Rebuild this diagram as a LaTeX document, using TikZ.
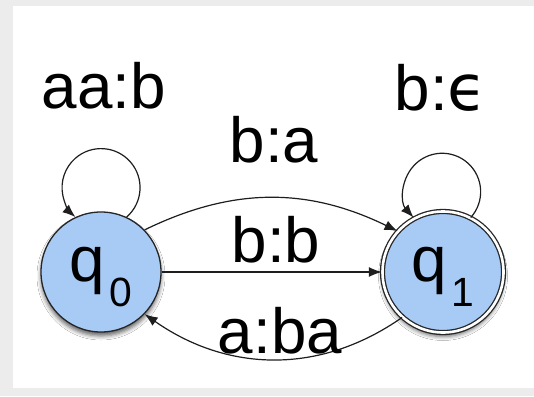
\documentclass[tikz,border=0pt]{standalone}
\usepackage{fontspec}
\setmainfont{Liberation Sans}
\newfontfamily\greekfont{DejaVu Sans}
\usetikzlibrary{arrows.meta,shadows.blur}

\definecolor{panelgray}{RGB}{236,236,236}
\definecolor{statefill}{RGB}{168,203,246}
\definecolor{edgecol}{RGB}{30,30,30}

\tikzset{
  x=1bp, y=1bp,
  state/.style={circle, draw=black!85, line width=1.3bp, fill=statefill,
    minimum size=120bp, inner sep=0pt,
    blur shadow={shadow xshift=0bp, shadow yshift=-4bp,
      shadow blur radius=4bp, shadow opacity=60}},
  accepting/.style={state, double=white, double distance=2.6bp, minimum size=121bp},
  trans/.style={draw=edgecol, line width=1.2bp,
    -{Latex[length=13bp,width=10bp]}},
  lbl/.style={anchor=base, inner sep=0pt, font=\fontsize{64}{70}\selectfont},
}

% state name: a large q with a deeply lowered index
\newcommand{\statename}[1]{\raisebox{-9bp}[0pt][0pt]{q\hspace{4bp}\raisebox{-25bp}{\fontsize{41}{41}\selectfont #1}}}

\begin{document}
\begin{tikzpicture}
  % page and white panel
  \path[fill=panelgray] (0,0) rectangle (534,396);
  \path[fill=white] (13,8) rectangle (534,390);
  \useasboundingbox (0,0) rectangle (534,396);

  % states
  \node[state, font=\fontsize{64}{70}\selectfont] (q0) at (101,124) {\statename{0}};
  \node[accepting, font=\fontsize{64}{70}\selectfont] (q1) at (443,124) {\statename{1}};

  % self loops
  \draw[trans] (q0.65) arc[start angle=-49, end angle=229, radius=39];
  \draw[trans] (q1.63) arc[start angle=-42, end angle=222, radius=38.5];

  % transitions between the states
  \draw[trans] (q0.44) to[out=26, in=154] (q1.138);
  \draw[trans] (q0) -- (q1);
  \draw[trans] (q1.228) to[out=215, in=-35] (q0.-44);

  % labels
  \node[lbl] (laa) at (104,288) {aa:b};
  \node[lbl] (lbe) at (441,286) {b:{\greekfont ϵ}};
  \node[lbl] (lba) at (274,234) {b:a};
  \node[lbl] (lbb) at (276,134) {b:b};
  \node[lbl] (laba) at (280,43) {a:ba};
\end{tikzpicture}
\end{document}
